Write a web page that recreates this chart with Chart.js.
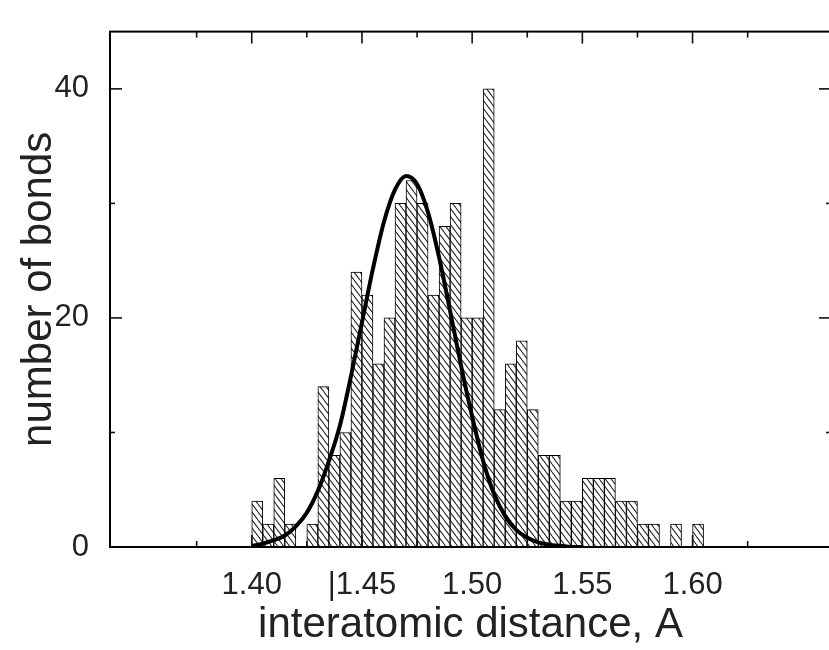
<!DOCTYPE html>
<html lang="en">
<head>
<meta charset="UTF-8">
<title>number of bonds</title>
<script src="https://cdn.jsdelivr.net/npm/chart.js@4.4.1/dist/chart.umd.min.js"></script>
<style>
  html, body { margin: 0; padding: 0; background: #fff; overflow: hidden; }
  #wrap { position: relative; width: 840px; height: 650px; }
</style>
</head>
<body>
<div id="wrap"><canvas id="chart"></canvas></div>
<script>
// histogram: bin centres (bin width 0.005 A) and counts
var binCenters = [1.4025, 1.4075, 1.4125, 1.4175, 1.4225, 1.4275, 1.4325, 1.4375, 1.4425, 1.4475,
                  1.4525, 1.4575, 1.4625, 1.4675, 1.4725, 1.4775, 1.4825, 1.4875, 1.4925, 1.4975,
                  1.5025, 1.5075, 1.5125, 1.5175, 1.5225, 1.5275, 1.5325, 1.5375, 1.5425, 1.5475,
                  1.5525, 1.5575, 1.5625, 1.5675, 1.5725, 1.5775, 1.5825, 1.5875, 1.5925, 1.5975,
                  1.6025];
var counts = [4, 2, 6, 2, 0, 2, 14, 8, 10, 24,
              22, 16, 20, 30, 32, 30, 22, 28, 30, 20,
              20, 40, 12, 16, 18, 12, 8, 8, 4, 4,
              6, 6, 6, 4, 4, 2, 2, 0, 2, 0,
              2];

// thick fitted curve
var curveX = [1.400, 1.405, 1.410, 1.415, 1.420, 1.425, 1.430, 1.435, 1.440, 1.445,
              1.450, 1.455, 1.460, 1.465, 1.470, 1.475, 1.480, 1.485, 1.490, 1.495,
              1.500, 1.505, 1.510, 1.515, 1.520, 1.525, 1.530, 1.535, 1.540, 1.545,
              1.550];
var curveY = [0.1, 0.3, 0.6, 1.0, 1.8, 3.0, 4.9, 7.5, 10.6, 14.9,
              19.6, 24.3, 28.4, 31.2, 32.4, 31.7, 29.2, 25.3, 20.6, 15.8,
              11.4, 7.5, 4.6, 2.7, 1.5, 0.8, 0.4, 0.2, 0.1, 0.0,
              0.0];

// axes
var xMajor = [1.40, 1.45, 1.50, 1.55, 1.60];
var xMinor = [1.375, 1.425, 1.475, 1.525, 1.575, 1.625];
var xLabels = ['1.40', '|1.45', '1.50', '1.55', '1.60'];
var yMajor = [0, 20, 40];
var yMinor = [10, 30];
var yLabels = ['0', '20', '40'];

Chart.defaults.font.family = "'Liberation Sans', Arial, sans-serif";
Chart.defaults.color = '#222';

function hatchPattern() {
  var c = document.createElement('canvas');
  c.width = 6; c.height = 8;
  var g = c.getContext('2d');
  g.fillStyle = '#fff';
  g.fillRect(0, 0, 6, 8);
  g.strokeStyle = '#2b2b2b';
  g.lineWidth = 1.1;
  for (var k = -1; k <= 1; k++) {
    g.beginPath();
    g.moveTo(k * 6, 0);
    g.lineTo(k * 6 + 6, 8);
    g.stroke();
  }
  return g.createPattern(c, 'repeat');
}

// box round the plot with inward ticks on all four sides
var frameTicks = {
  id: 'frameTicks',
  afterDraw: function (chart) {
    var ctx = chart.ctx, a = chart.chartArea;
    var sx = chart.scales.x, sy = chart.scales.y;
    function seg(x1, y1, x2, y2) { ctx.beginPath(); ctx.moveTo(x1, y1); ctx.lineTo(x2, y2); ctx.stroke(); }
    ctx.save();
    ctx.strokeStyle = '#111';
    ctx.lineWidth = 1.6;
    xMajor.concat(xMinor).forEach(function (v, i) {
      var len = i < xMajor.length ? 12 : 6;
      var px = sx.getPixelForValue(v);
      seg(px, a.bottom, px, a.bottom - len);
      seg(px, a.top, px, a.top + len);
    });
    yMajor.concat(yMinor).forEach(function (v, i) {
      var len = i < yMajor.length ? 12 : 5;
      var py = sy.getPixelForValue(v);
      seg(a.left, py, a.left + len, py);
      seg(a.right, py, a.right - len, py);
    });
    ctx.lineWidth = 2;
    ctx.strokeStyle = '#000';
    ctx.strokeRect(a.left, a.top, a.right - a.left, a.bottom - a.top);
    ctx.restore();
  }
};

new Chart(document.getElementById('chart'), {
  type: 'bar',
  data: {
    datasets: [{
      type: 'line',
      data: curveX.map(function (x, i) { return { x: x, y: curveY[i] }; }),
      borderColor: '#000',
      borderWidth: 4,
      pointRadius: 0,
      cubicInterpolationMode: 'monotone',
      order: 0
    }, {
      type: 'bar',
      data: binCenters.map(function (x, i) { return { x: x, y: counts[i] }; }),
      backgroundColor: hatchPattern(),
      borderColor: '#000',
      borderWidth: 1,
      barPercentage: 1,
      categoryPercentage: 1,
      order: 1
    }]
  },
  options: {
    responsive: true,
    maintainAspectRatio: false,
    animation: false,
    layout: { padding: { top: 14.5, right: 9, left: 0, bottom: 0 } },
    plugins: { legend: { display: false }, tooltip: { enabled: false } },
    scales: {
      x: {
        type: 'linear',
        min: 1.3684,
        max: 1.6301,
        grid: { display: false },
        border: { display: false },
        afterBuildTicks: function (s) { s.ticks = xMajor.map(function (v) { return { value: v }; }); },
        afterFit: function (s) { s.height = 103; },
        ticks: {
          padding: 12,
          font: { size: 31 },
          maxRotation: 0,
          autoSkip: false,
          callback: function (v, i) { return xLabels[i]; }
        },
        title: {
          display: true,
          text: 'interatomic distance, A',
          font: { size: 42, lineHeight: 1.15 },
          padding: { top: 0, bottom: 0 }
        }
      },
      y: {
        min: 0,
        max: 45,
        grid: { display: false },
        border: { display: false },
        afterBuildTicks: function (s) { s.ticks = yMajor.map(function (v) { return { value: v }; }); },
        afterFit: function (s) { s.width = 110; },
        ticks: {
          padding: 13,
          font: { size: 31 },
          callback: function (v, i) { return yLabels[i]; }
        },
        title: {
          display: true,
          text: 'number of bonds',
          font: { size: 42 },
          padding: { top: 14, bottom: 0 }
        }
      }
    }
  },
  plugins: [frameTicks]
});
</script>
</body>
</html>
